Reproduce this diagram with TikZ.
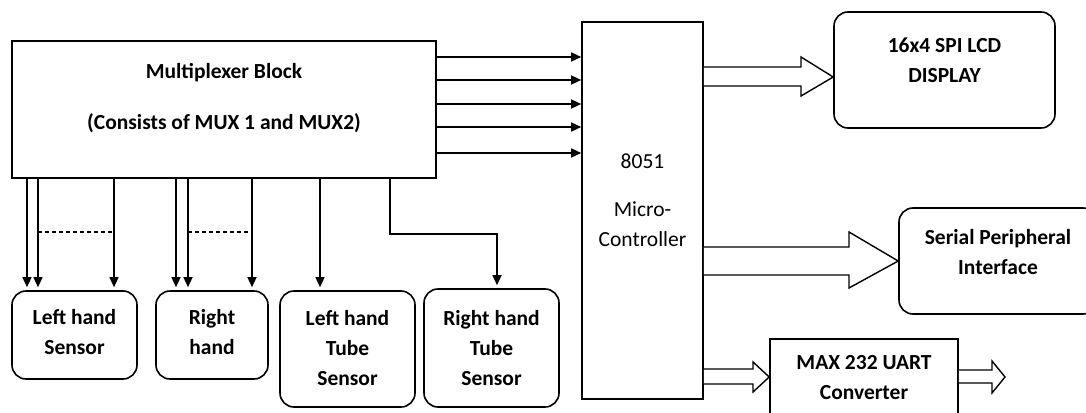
\documentclass[tikz,border=0pt]{standalone}
\usepackage{fontspec}
\setmainfont{Carlito}
\usetikzlibrary{arrows.meta}

\begin{document}
\begin{tikzpicture}[x=1pt,y=-1pt,
    blk/.style={draw, line width=1.6pt, inner sep=0pt},
    rblk/.style={blk, rounded corners=14pt},
    lbl/.style={align=center, inner sep=0pt, font=\bfseries\fontsize{21.5}{30}\selectfont},
    sig/.style={-{Triangle[length=10pt,width=9pt]}, line width=1.4pt},
    fat/.style={line width=1.4pt, fill=white, line join=miter}]
    \useasboundingbox (0,0) rectangle (1086,412);

    % blocks
    \node[blk, minimum width=424pt, minimum height=137pt] (mux) at (224,109.5) {};
    \node[blk, minimum width=121pt, minimum height=377pt] (mcu) at (642.5,210.5) {};
    \node[rblk, minimum width=221pt, minimum height=116pt] (lcd) at (944.5,70) {};
    \node[rblk, minimum width=198pt, minimum height=106pt] (spi) at (998,261) {};
    \node[blk, minimum width=188pt, minimum height=79pt] (uart) at (864,378.5) {};
    \node[rblk, minimum width=125pt, minimum height=88pt] (lhs) at (74.5,335) {};
    \node[rblk, minimum width=112pt, minimum height=88pt] (rhs) at (212,335) {};
    \node[rblk, minimum width=135pt, minimum height=116pt] (lts) at (347.5,349) {};
    \node[rblk, minimum width=135pt, minimum height=118pt] (rts) at (491.5,348) {};

    % texts
    \node[lbl] (muxtxt) at (224,98.5) {Multiplexer Block\\[21pt](Consists of MUX 1 and MUX2)};
    \node[lbl, font=\fontsize{21.5}{30}\selectfont] (mcutxt) at (642.5,200.5) {8051\\[18pt]Micro-\\Controller};
    \node[lbl] (lcdtxt) at (944.5,60.5) {16x4 SPI LCD\\DISPLAY};
    \node[lbl] (spitxt) at (998,252) {Serial Peripheral\\Interface};
    \node[lbl] (uarttxt) at (864,377.5) {MAX 232 UART\\Converter};
    \node[lbl] (lhstxt) at (74.5,332.5) {Left hand\\Sensor};
    \node[lbl] (rhstxt) at (212,332.5) {Right\\hand};
    \node[lbl] (ltstxt) at (347.5,348) {Left hand\\Tube\\Sensor};
    \node[lbl] (rtstxt) at (491.5,348) {Right hand\\Tube\\Sensor};

    % mux -> controller
    \foreach \y in {57,80,104,127,153}
        \draw[sig] (mux.east |- 0,\y) -- (mcu.west |- 0,\y);

    % mux -> sensors
    \foreach \x in {27,38,114}
        \draw[sig, shorten >=3pt] (mux.south -| \x,0) -- (lhs.north -| \x,0);
    \foreach \x in {176,188,252}
        \draw[sig, shorten >=3pt] (mux.south -| \x,0) -- (rhs.north -| \x,0);
    \draw[sig, shorten >=3pt] (mux.south -| 320,0) -- (lts.north -| 320,0);
    \draw[sig, shorten >=3pt] (mux.south -| 390,0) -- (390,234) -| (rts.north -| 497,0);
    \draw[line width=1.2pt, dash pattern=on 4pt off 3pt] (38,232) -- (114,232);
    \draw[line width=1.2pt, dash pattern=on 4pt off 3pt] (188,232) -- (252,232);

    % wide arrows
    \draw[fat] (mcu.east |- 0,67) -- (801,67) -- (801,57) -- (lcd.west |- 0,77)
        -- (801,96) -- (801,86) -- (mcu.east |- 0,86);
    \draw[fat] (mcu.east |- 0,247) -- (849,247) -- (849,232) -- (spi.west |- 0,261)
        -- (849,288) -- (849,275) -- (mcu.east |- 0,275);
    \draw[fat] (mcu.east |- 0,369) -- (753,369) -- (753,362) -- (uart.west |- 0,377)
        -- (753,392) -- (753,384) -- (mcu.east |- 0,384);
    \coordinate (uartout) at (1005,377);
    \draw[fat] (uart.east |- 0,370) -- (992,370) -- (992,361) -- (uartout)
        -- (992,393) -- (992,383) -- (uart.east |- 0,383);
\end{tikzpicture}
\end{document}
